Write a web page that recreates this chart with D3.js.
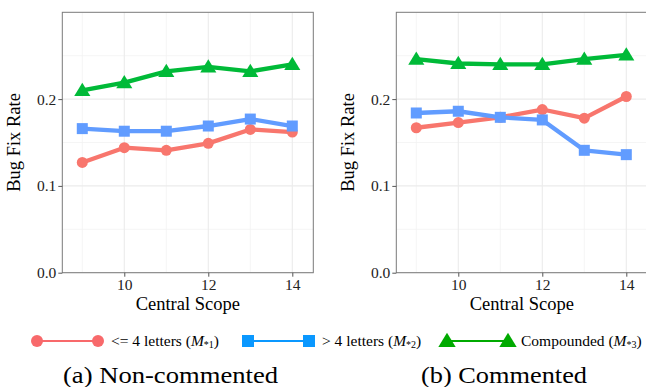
<!DOCTYPE html>
<html>
<head>
<meta charset="utf-8">
<script src="https://cdn.jsdelivr.net/npm/d3@7"></script>
<style>
  body { margin: 0; background: #fff; }
  svg { display: block; }
  svg text { font-family: "Liberation Serif", "Times New Roman", Times, "DejaVu Serif", serif; }
</style>
</head>
<body>
<svg id="chart" width="646" height="387"></svg>
<script>
// central scope values on the x axis
var scopes = [9, 10, 11, 12, 13, 14];
var xTicks = [10, 12, 14];
var yTicks = [0, 0.1, 0.2];

// (a) non-commented
var nonShort = [0.127, 0.144, 0.141, 0.149, 0.165, 0.162];
var nonLong = [0.166, 0.163, 0.163, 0.169, 0.177, 0.169];
var nonCompound = [0.210, 0.219, 0.232, 0.237, 0.232, 0.240];

// (b) commented
var comShort = [0.167, 0.173, 0.179, 0.188, 0.178, 0.203];
var comLong = [0.184, 0.186, 0.179, 0.176, 0.141, 0.136];
var comCompound = [0.246, 0.241, 0.240, 0.240, 0.246, 0.251];

var seriesNames = ["<= 4 letters", "> 4 letters", "Compounded"];
var subscripts = ["*1", "*2", "*3"];
var captions = ["(a) Non-commented", "(b) Commented"];

var lineColors = ["#f8766d", "#619cff", "#00ba38"];
var keyColors = ["#f8696b", "#0a98ff", "#00aa00"];

var svg = d3.select("#chart");

var plotTop = 12.3, plotBottom = 272.7;
var y = d3.scaleLinear().domain([0, 0.3]).range([plotBottom, plotTop]);

function marker(sel, kind, color, size) {
    if (kind === 0) {
        sel.append("circle").attr("r", size / 2).attr("fill", color);
    } else if (kind === 1) {
        sel.append("rect").attr("x", -size / 2).attr("y", -size / 2)
            .attr("width", size).attr("height", size).attr("fill", color);
    } else {
        var h = size * 0.95;
        sel.append("path")
            .attr("d", "M0," + (-h * 0.62) + "L" + (size * 0.62) + "," + (h * 0.45) + "L" + (-size * 0.62) + "," + (h * 0.45) + "Z")
            .attr("fill", color);
    }
}

function drawPanel(left, right, series) {
    var x = d3.scaleLinear().domain([8.524, 14.5]).range([left, right]);
    var g = svg.append("g");

    // minor grid
    [0.05, 0.15, 0.25].forEach(function (v) {
        g.append("line").attr("x1", left).attr("x2", right)
            .attr("y1", y(v)).attr("y2", y(v))
            .attr("stroke", "#f3f3f3").attr("stroke-width", 0.8);
    });
    [9, 11, 13].forEach(function (v) {
        g.append("line").attr("x1", x(v)).attr("x2", x(v))
            .attr("y1", plotTop).attr("y2", plotBottom)
            .attr("stroke", "#f3f3f3").attr("stroke-width", 0.8);
    });
    // major grid
    yTicks.forEach(function (v) {
        g.append("line").attr("x1", left).attr("x2", right)
            .attr("y1", y(v)).attr("y2", y(v))
            .attr("stroke", "#ebebeb").attr("stroke-width", 1.1);
    });
    xTicks.forEach(function (v) {
        g.append("line").attr("x1", x(v)).attr("x2", x(v))
            .attr("y1", plotTop).attr("y2", plotBottom)
            .attr("stroke", "#ebebeb").attr("stroke-width", 1.1);
    });

    var line = d3.line()
        .x(function (d, i) { return x(scopes[i]); })
        .y(function (d) { return y(d); });

    series.forEach(function (vals, k) {
        g.append("path").datum(vals)
            .attr("d", line)
            .attr("fill", "none")
            .attr("stroke", lineColors[k])
            .attr("stroke-width", 4.3)
            .attr("stroke-linejoin", "round");
        vals.forEach(function (v, i) {
            var m = g.append("g").attr("transform", "translate(" + x(scopes[i]) + "," + y(v) + ")");
            marker(m, k, lineColors[k], k === 2 ? 13 : 11);
        });
    });

    // border
    g.append("rect").attr("x", left).attr("y", plotTop)
        .attr("width", right - left).attr("height", plotBottom - plotTop)
        .attr("fill", "none").attr("stroke", "#7a7a7a").attr("stroke-width", 1);

    var yAxis = d3.axisLeft(y).tickValues(yTicks).tickFormat(d3.format(".1f"))
        .tickSize(4).tickPadding(2);
    var ya = g.append("g").attr("transform", "translate(" + left + ",0)").call(yAxis);
    var xAxis = d3.axisBottom(x).tickValues(xTicks).tickFormat(d3.format("d"))
        .tickSize(4).tickPadding(2);
    var xa = g.append("g").attr("transform", "translate(0," + plotBottom + ")").call(xAxis);
    [ya, xa].forEach(function (a) {
        a.attr("font-family", null).attr("font-size", 15.5);
        a.select(".domain").remove();
        a.selectAll(".tick line").attr("stroke", "#555");
        a.selectAll(".tick text").attr("fill", "#222");
    });

    g.append("text")
        .attr("transform", "translate(" + (left - 42) + "," + ((plotTop + plotBottom) / 2) + ") rotate(-90)")
        .attr("text-anchor", "middle")
        .style("font-size", "18.5px")
        .text("Bug Fix Rate");

    g.append("text")
        .attr("x", (left + right) / 2)
        .attr("y", 310)
        .attr("text-anchor", "middle")
        .style("font-size", "18.5px")
        .text("Central Scope");
}

drawPanel(62.3, 313.3, [nonShort, nonLong, nonCompound]);
drawPanel(396.3, 647.3, [comShort, comLong, comCompound]);

// legend
var keyStarts = [37, 248, 447];
var keyLen = 61;
keyStarts.forEach(function (kx, k) {
    var lg = svg.append("g").attr("transform", "translate(" + kx + ",341)");
    lg.append("line").attr("x1", 0).attr("x2", keyLen)
        .attr("stroke", keyColors[k]).attr("stroke-width", 2);
    [0, keyLen].forEach(function (px) {
        var m = lg.append("g").attr("transform", "translate(" + px + ",0)");
        marker(m, k, keyColors[k], k === 2 ? 14 : 12);
    });
    var t = lg.append("text")
        .attr("x", keyLen + 13).attr("y", 5)
        .style("font-size", "15.5px");
    t.append("tspan").text(seriesNames[k] + " (");
    t.append("tspan").style("font-style", "italic").text("M");
    t.append("tspan").style("font-size", "10px").attr("dy", 2).text(subscripts[k]);
    t.append("tspan").attr("dy", -2).text(")");
});

// captions
svg.append("text").attr("x", 63).attr("y", 383)
    .attr("textLength", 215).attr("lengthAdjust", "spacingAndGlyphs")
    .style("font-size", "23px").text(captions[0]);
svg.append("text").attr("x", 421).attr("y", 383)
    .attr("textLength", 166).attr("lengthAdjust", "spacingAndGlyphs")
    .style("font-size", "23px").text(captions[1]);
</script>
</body>
</html>
